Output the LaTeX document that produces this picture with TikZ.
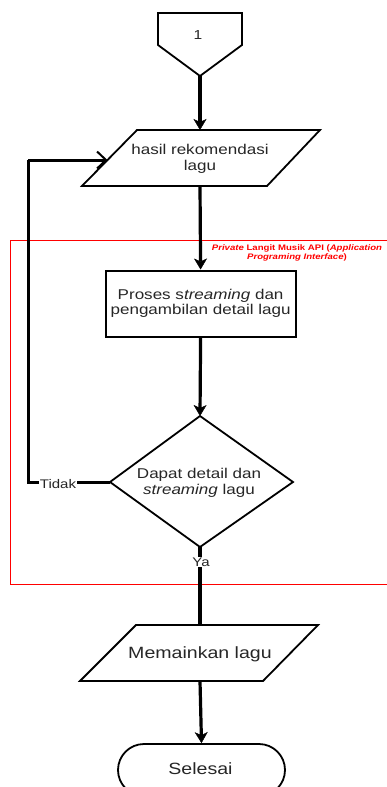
\documentclass[tikz,border=0pt]{standalone}
\usepackage{fontspec}
\setmainfont{Liberation Sans}[FakeStretch=1.2]
\usetikzlibrary{arrows.meta,shapes.misc}
\begin{document}
\begin{tikzpicture}[x=1pt,y=-1pt,
  shp/.style={draw=black, line width=1.8pt, line join=miter},
  txt/.style={text=black!85, align=center, inner sep=0pt},
  mainf/.style={font=\fontsize{14.2}{15.5}\selectfont},
  bigf/.style={font=\fontsize{16.3}{18}\selectfont},
  smallf/.style={font=\fontsize{12.5}{14}\selectfont},
  flow/.style={line width=3.2pt, -{Stealth[length=11pt,width=13pt,inset=3pt,line width=0.4pt]}},
  plain/.style={line width=3.2pt},
  loopar/.style={line width=3pt, -{Straight Barb[length=9pt,width=17pt,line width=2pt]}},
  lbl/.style={txt, smallf, fill=white, inner sep=1pt}
]
\useasboundingbox (0,0) rectangle (387,787);

% red API frame
\draw[red, line width=1pt] (392,240) -- (10,240) -- (10,584) -- (392,584);
\node[text=red, align=center, inner sep=0pt, font=\fontsize{8}{9.5}\selectfont\bfseries] (api) at (297,253)
  {\textit{Private} Langit Musik API (\textit{Application}\\\textit{Programing Interface})};

% off-page connector
\draw[shp] (158,13) -- (242,13) -- (242,45) -- (200,76) -- (158,45) -- cycle;
\coordinate (oneS) at (200,76);
\node[txt, font=\fontsize{13}{15}\selectfont] (one) at (198,35) {1};

% parallelogram 1
\draw[shp] (137,130) -- (320,130) -- (267,186) -- (82,186) -- cycle;
\coordinate (p1N) at (200,130);
\coordinate (p1S) at (200,186);
\coordinate (p1W) at (107.5,160);
\node[txt, mainf] (p1) at (200,159) {hasil rekomendasi\\lagu};

% process
\node[draw=black, line width=2pt, minimum width=190pt, minimum height=66pt, inner sep=0pt, txt, mainf]
  (proc) at (200.6,303.5) {Proses s\textit{treaming} dan\\pengambilan detail lagu};

% decision
\draw[shp] (200,416) -- (293,482) -- (200,547) -- (110,482) -- cycle;
\coordinate (dN) at (200,416);
\coordinate (dS) at (200,547);
\coordinate (dW) at (110,482);
\node[txt, mainf] (dec) at (199,483) {Dapat detail dan\\\textit{streaming} lagu};

% parallelogram 2
\draw[shp] (136,625) -- (318,625) -- (263,681) -- (80,681) -- cycle;
\coordinate (p2N) at (200,625);
\coordinate (p2S) at (200,681);
\node[txt, bigf] (p2) at (200,654) {Memainkan lagu};

% terminal
\node[shp, rounded rectangle, minimum width=167pt, minimum height=52pt, inner sep=0pt, txt, bigf]
  (end) at (201.5,770) {};
\node[txt, bigf] (endt) at (200.5,768.5) {Selesai};

% connectors
\draw[flow] (oneS) -- (p1N);
\draw[flow] (p1S) -- (proc.north);
\draw[flow] (proc.south) -- (dN);
\draw[plain] (dS) -- (p2N);
\draw[flow] (p2S) -- (end.north);
\coordinate (lc) at (28,482);
\draw[line width=3pt, line join=miter] (dW) -- (lc) -- (28,160);
\draw[loopar] (28,160) -- (p1W);

% labels on lines
\node[lbl] (tidak) at (58,484) {Tidak};
\node[lbl] (ya) at (201,562) {Ya};
\end{tikzpicture}
\end{document}
